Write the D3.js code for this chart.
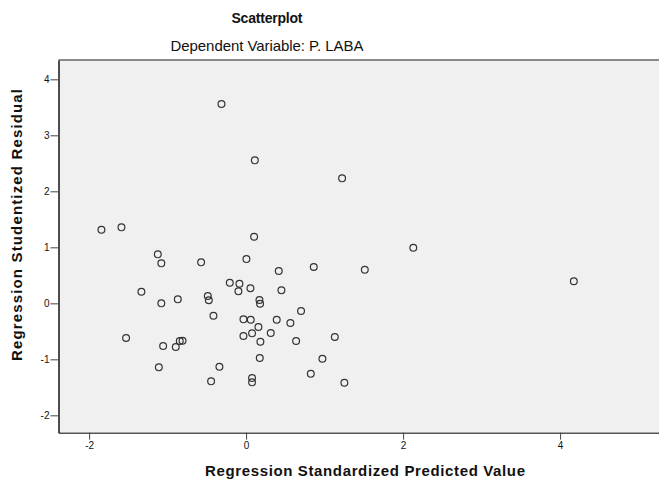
<!DOCTYPE html>
<html>
<head>
<meta charset="utf-8">
<script src="https://cdn.jsdelivr.net/npm/d3@7"></script>
<style>
	body { margin: 0; background: #fff; }
	svg { display: block; font-family: Arial, "Liberation Sans", sans-serif; }
</style>
</head>
<body>
<svg id="chart"></svg>
<script>
	var w = 659;
	var h = 480;

	// predicted values (x) and studentized residuals (y)
	var predicted = [-1.843, -1.588, -1.125, -1.08, -0.573, -1.334, -1.08, -0.87, -0.488, -0.475,
		-1.529, -1.057, -0.896, -0.845, -0.81, -1.112, 0.004, 0.416, 0.862, -0.208,
		-0.085, -0.098, 0.055, 0.45, 0.17, 0.178, -0.416, -0.034, 0.059, 0.39,
		0.70, 0.564, 0.157, -0.034, 0.076, 0.314, 0.182, 0.637, 0.174, 0.972,
		-0.34, 0.824, -0.446, 0.076, 0.076, 2.13, 1.512, 1.13, 1.252, -0.314,
		0.111, 1.223, 0.102, 4.175];
	var residual = [1.315, 1.357, 0.875, 0.714, 0.732, 0.207, 0.0, 0.071, 0.13, 0.054,
		-0.62, -0.763, -0.78, -0.673, -0.667, -1.143, 0.79, 0.577, 0.648, 0.368,
		0.35, 0.214, 0.268, 0.232, 0.059, -0.007, -0.221, -0.286, -0.292, -0.292,
		-0.138, -0.352, -0.423, -0.584, -0.536, -0.53, -0.685, -0.673, -0.977, -0.989,
		-1.132, -1.257, -1.393, -1.334, -1.411, 0.993, 0.6, -0.602, -1.418, 3.559,
		2.553, 2.232, 1.19, 0.393];

	var xticks = [-2, 0, 2, 4];
	var yticks = [-2, -1, 0, 1, 2, 3, 4];

	var title = "Scatterplot";
	var subtitle = "Dependent Variable: P. LABA";
	var xlabel = "Regression Standardized Predicted Value";
	var ylabel = "Regression Studentized Residual";

	var xrange = [58.5, 659];
	var yrange = [432.7, 60];

	var svg = d3.select("#chart")
		.attr("width", w)
		.attr("height", h);

	// scales
	var xscale = d3.scaleLinear()
		.domain([-2.39, 5.26])
		.range(xrange);
	var yscale = d3.scaleLinear()
		.domain([-2.31, 4.345])
		.range(yrange);

	// plot background
	svg.append("rect")
		.attr("x", xrange[0])
		.attr("y", yrange[1])
		.attr("width", xrange[1] - xrange[0])
		.attr("height", yrange[0] - yrange[1])
		.attr("fill", "#f0f0f0");

	// top frame line
	svg.append("line")
		.attr("x1", xrange[0]).attr("x2", xrange[1])
		.attr("y1", yrange[1]).attr("y2", yrange[1])
		.attr("stroke", "#8a8a8a")
		.attr("stroke-width", 2);

	// plain hyphen for negatives, like the original
	function fmt(d){ return String(d); }

	// axes
	var xaxis = d3.axisBottom(xscale)
		.tickValues(xticks)
		.tickFormat(fmt)
		.tickSize(7)
		.tickPadding(2)
		.tickSizeOuter(0);
	var yaxis = d3.axisLeft(yscale)
		.tickValues(yticks)
		.tickFormat(fmt)
		.tickSize(8)
		.tickPadding(1)
		.tickSizeOuter(0);

	var gx = svg.append("g")
		.attr("transform", "translate(0," + yrange[0] + ")")
		.call(xaxis);
	gx.select(".domain").attr("stroke", "#555").attr("stroke-width", 1.6);
	gx.selectAll(".tick line").attr("stroke", "#444");
	gx.selectAll(".tick text")
		.attr("fill", "#111")
		.style("font-size", "10px")
		.style("font-family", "Arial, 'Liberation Sans', sans-serif");

	var gy = svg.append("g")
		.attr("transform", "translate(" + xrange[0] + ",0)")
		.call(yaxis);
	gy.select(".domain").attr("stroke", "#222").attr("stroke-width", 1.6);
	gy.selectAll(".tick line").attr("stroke", "#444");
	gy.selectAll(".tick text")
		.attr("fill", "#111")
		.style("font-size", "10px")
		.style("font-family", "Arial, 'Liberation Sans', sans-serif");

	// titles
	svg.append("text")
		.attr("x", 267)
		.attr("y", 23)
		.attr("text-anchor", "middle")
		.attr("textLength", 71)
		.attr("lengthAdjust", "spacing")
		.style("font-size", "14px")
		.style("font-weight", "bold")
		.attr("fill", "#111")
		.text(title);

	svg.append("text")
		.attr("x", 267)
		.attr("y", 50.5)
		.attr("text-anchor", "middle")
		.attr("textLength", 193)
		.attr("lengthAdjust", "spacing")
		.style("font-size", "15px")
		.attr("fill", "#111")
		.text(subtitle);

	svg.append("text")
		.attr("x", 365)
		.attr("y", 476)
		.attr("text-anchor", "middle")
		.attr("textLength", 320)
		.attr("lengthAdjust", "spacing")
		.style("font-size", "15px")
		.style("font-weight", "bold")
		.attr("fill", "#111")
		.text(xlabel);

	svg.append("text")
		.attr("transform", "translate(22," + 225 + ") rotate(-90)")
		.attr("text-anchor", "middle")
		.attr("textLength", 272)
		.attr("lengthAdjust", "spacing")
		.style("font-size", "15px")
		.style("font-weight", "bold")
		.attr("fill", "#111")
		.text(ylabel);

	// points
	svg.append("g")
		.selectAll("circle.data-points")
		.data(d3.range(predicted.length))
		.enter().append("circle")
			.attr("class", "data-points")
			.attr("cx", function(i){ return xscale(predicted[i]); })
			.attr("cy", function(i){ return yscale(residual[i]); })
			.attr("r", 3.4)
			.attr("fill", "none")
			.attr("stroke", "#333")
			.attr("stroke-width", 1.2);
</script>
</body>
</html>
